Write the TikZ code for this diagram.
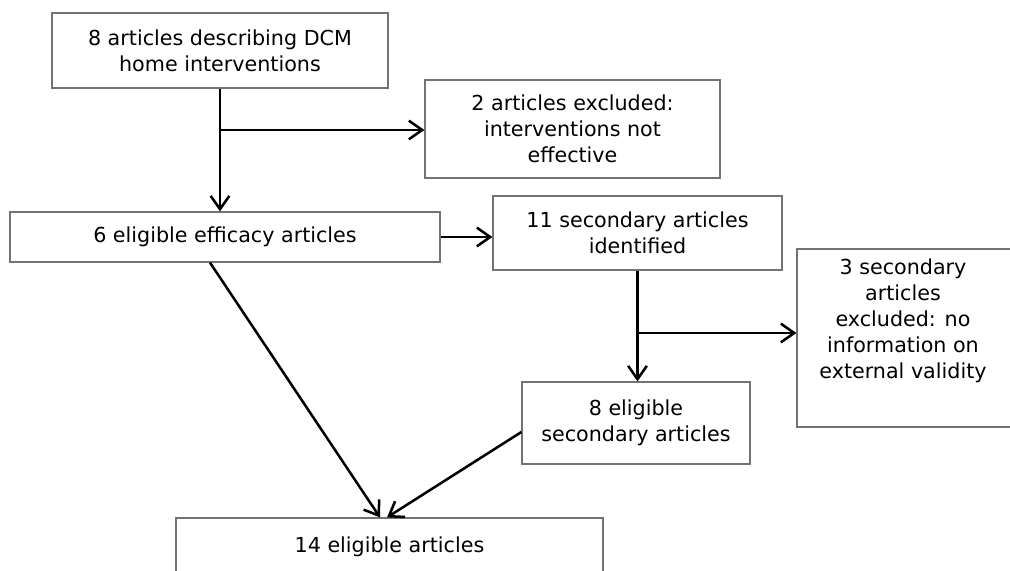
\documentclass[tikz,border=0pt]{standalone}
\usepackage{fontspec}
\setmainfont{DejaVu Sans}
\usetikzlibrary{arrows.meta}
\begin{document}
\begin{tikzpicture}[x=0.75pt,y=-0.75pt,
  box/.style={draw=black!55,line width=0.9pt,inner sep=0pt,align=center,
    font=\fontsize{15.5}{19.5}\selectfont},
  txt/.style={inner sep=0pt,align=center,font=\fontsize{15.5}{19.5}\selectfont},
  arr/.style={line width=1.9pt,-{Straight Barb[length=10pt,width=14pt,line width=1.9pt]}}]
\useasboundingbox[fill=white] (0,0) rectangle (1010,571);
\node[box,minimum width=336*0.75pt,minimum height=75*0.75pt] (A) at (220,50.5)
  {8 articles describing DCM\\home interventions};
\node[box,minimum width=295*0.75pt,minimum height=98*0.75pt] (B) at (572.5,129)
  {2 articles excluded:\\interventions not\\effective};
\node[box,minimum width=430*0.75pt,minimum height=50*0.75pt] (C) at (225,237)
  {6 eligible efficacy articles};
\node[box,minimum width=289*0.75pt,minimum height=74*0.75pt] (D) at (637.5,233)
  {11 secondary articles\\identified};
\node[box,minimum width=230*0.75pt,minimum height=178*0.75pt] (E) at (912,338) {};
\node[txt] (Et) at (903,321)
  {3 secondary\\articles\\excluded: no\\information on\\external validity};
\node[box,minimum width=228*0.75pt,minimum height=82*0.75pt] (F) at (636,423)
  {8 eligible\\secondary articles};
\node[box,minimum width=427*0.75pt,minimum height=57*0.75pt] (G) at (389.5,546.5)
  {14 eligible articles};
\coordinate (j1) at (220,130);
\coordinate (j2) at (637.5,333);
\draw[arr] (A.south) -- (A.south |- C.north);
\draw[arr] (j1) -- (j1 -| B.west);
\draw[arr] (C.east) -- (C.east -| D.west);
\draw[arr] (D.south) -- (D.south |- F.north);
\draw[arr] (j2) -- (j2 -| E.west);
\draw[arr] ([xshift=-15*0.75pt]C.south) -- ([xshift=-9.5*0.75pt]G.north);
\draw[arr] ([yshift=-9*0.75pt]F.west) -- ([xshift=-2.5*0.75pt]G.north);
\end{tikzpicture}
\end{document}
